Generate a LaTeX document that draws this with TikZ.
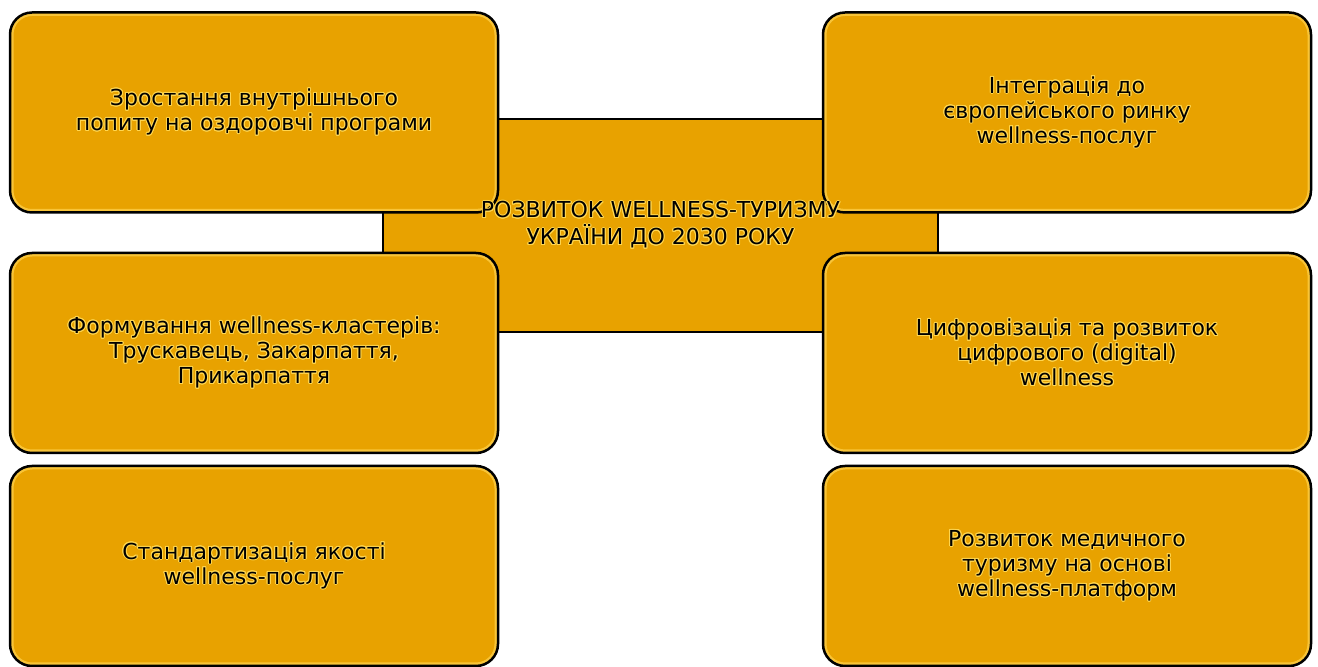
\documentclass[tikz,border=0pt]{standalone}
\usepackage{fontspec}
\setmainfont{DejaVu Sans}
\usepackage{contour}
\usetikzlibrary{calc}
\definecolor{amber}{RGB}{232,162,0}
\definecolor{amberglow}{RGB}{252,205,70}
\definecolor{textglow}{RGB}{255,214,80}
\contourlength{0.5pt}
\def\glow#1{\contour{textglow}{#1}}
\def\ideanode{\node[idea]}

\begin{document}
\begin{tikzpicture}[x=0.5pt,y=-0.5pt,
  idea/.style={draw=black, line width=1.25pt, fill=amber, rounded corners=11pt,
    minimum width=244pt, minimum height=100pt, inner sep=0pt, align=center,
    font=\fontsize{11}{12.5}\selectfont,
    path picture={\draw[amberglow, opacity=0.8, line width=3.5pt, rounded corners=11pt]
      (path picture bounding box.south west) rectangle (path picture bounding box.north east);}},
  hub/.style={draw=black, line width=1.25pt, fill=amber, minimum width=277.5pt,
    minimum height=106.5pt, inner sep=0pt}]
\useasboundingbox (0,0) rectangle (1318,667);
\coordinate (o) at (660.5,225.5);
\node[hub] (hub) at (o) {}; % the box behind, its text comes last

% left column
\ideanode (demand) at ($ (o) + (-406.5,-113) $) {\glow{Зростання внутрішнього}\\\glow{попиту на оздоровчі програми}};
\ideanode (cluster) at ($ (o) + (-406.5,127.5) $) {\glow{Формування wellness-кластерів:}\\\glow{Трускавець, Закарпаття,}\\\glow{Прикарпаття}};
\ideanode (quality) at ($ (o) + (-406.5,340.5) $) {\glow{Стандартизація якості}\\\glow{wellness-послуг}};

% right column
\ideanode (europe) at ($ (o) + (406.5,-113) $) {\glow{Інтеграція до}\\\glow{європейського ринку}\\\glow{wellness-послуг}};
\ideanode (digital) at ($ (o) + (406.5,127.5) $) {\glow{Цифровізація та розвиток}\\\glow{цифрового (digital)}\\\glow{wellness}};
\ideanode (medical) at ($ (o) + (406.5,340.5) $) {\glow{Розвиток медичного}\\\glow{туризму на основі}\\\glow{wellness-платформ}};

\node[align=center, font=\fontsize{11}{13.5}\selectfont] (hubtext) at (hub.center)
  {\glow{РОЗВИТОК WELLNESS-ТУРИЗМУ}\\\glow{УКРАЇНИ ДО 2030 РОКУ}};
\end{tikzpicture}
\end{document}
